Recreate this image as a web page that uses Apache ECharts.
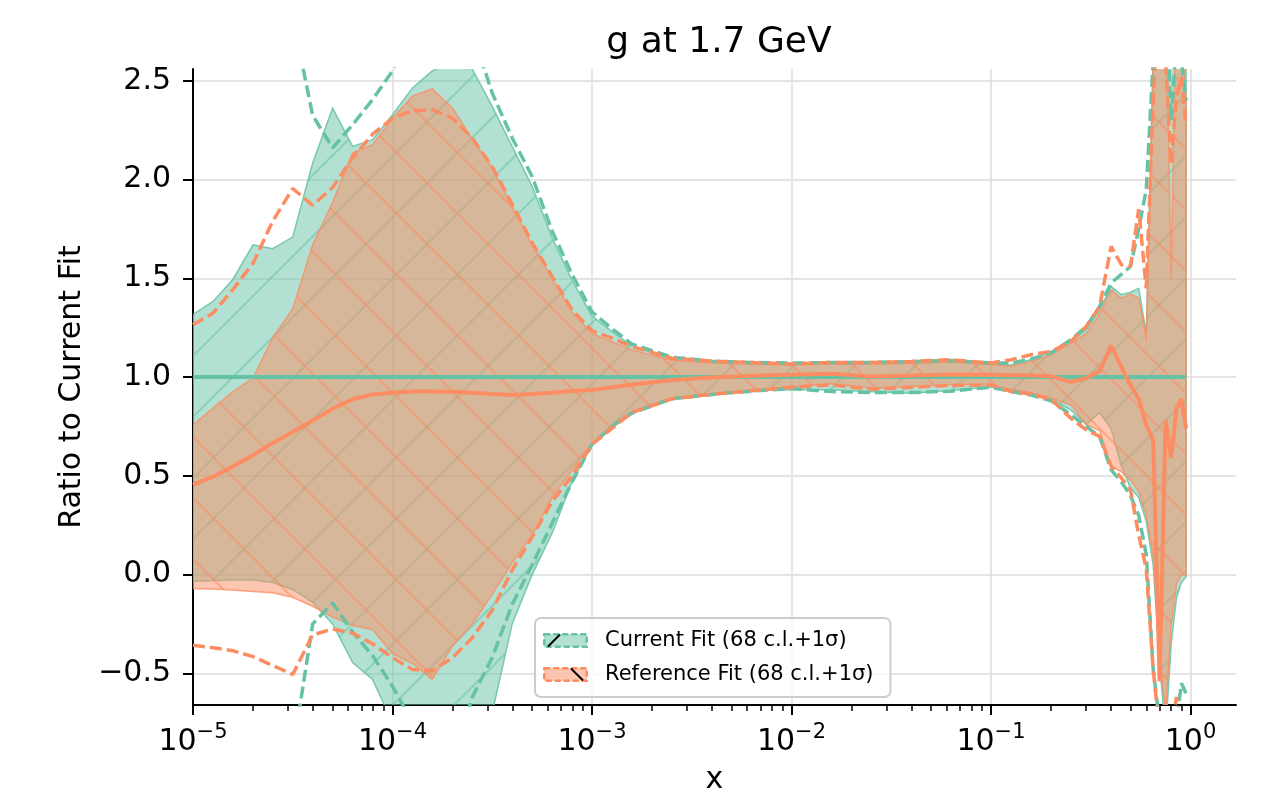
<!DOCTYPE html>
<html>
<head>
<meta charset="utf-8">
<title>g at 1.7 GeV</title>
<script src="https://cdn.jsdelivr.net/npm/echarts@6.0.0/dist/echarts.min.js"></script>
<style>
  html, body { margin: 0; padding: 0; background: #fff; }
  #chart { width: 1261px; height: 793px; }
</style>
</head>
<body>
<div id="chart"></div>
<script>
// x grid (momentum fraction)
var xVals = [1e-5, 1.26e-5, 1.58e-5, 2.0e-5, 2.51e-5, 3.16e-5, 3.98e-5, 5.01e-5, 6.31e-5, 7.94e-5,
  1e-4, 1.26e-4, 1.58e-4, 2.0e-4, 2.51e-4, 3.16e-4, 3.98e-4, 5.01e-4, 6.31e-4, 7.94e-4,
  1e-3, 1.26e-3, 1.58e-3, 2.51e-3, 3.98e-3, 6.31e-3, 1e-2, 1.58e-2, 2.51e-2, 3.98e-2,
  6.31e-2, 0.1, 0.126, 0.158, 0.2, 0.251, 0.3, 0.35, 0.4, 0.45,
  0.5, 0.55, 0.6, 0.65, 0.7, 0.75, 0.8, 0.85, 0.9, 0.95];

// Current Fit (green)
var curCentral = [1, 1, 1, 1, 1, 1, 1, 1, 1, 1,
  1, 1, 1, 1, 1, 1, 1, 1, 1, 1,
  1, 1, 1, 1, 1, 1, 1, 1, 1, 1,
  1, 1, 1, 1, 1, 1, 1, 1, 1, 1,
  1, 1, 1, 1, 1, 1, 1, 1, 1, 1];
var curBandHi = [1.316, 1.383, 1.493, 1.670, 1.650, 1.709, 2.084, 2.362, 2.168, 2.202,
  2.329, 2.464, 2.550, 2.600, 2.560, 2.371, 2.168, 1.966, 1.707, 1.490,
  1.310, 1.231, 1.160, 1.090, 1.075, 1.068, 1.066, 1.068, 1.068, 1.072,
  1.078, 1.066, 1.062, 1.088, 1.130, 1.180, 1.240, 1.340, 1.459, 1.417,
  1.430, 1.450, 1.220, 2.600, 3.000, 3.000, 3.000, 3.000, 3.000, 2.800];
var curBandLo = [-0.035, -0.030, -0.027, -0.027, -0.040, -0.075, -0.140, -0.250, -0.445, -0.530,
  -0.750, -0.850, -0.950, -0.950, -0.850, -0.700, -0.250, 0.000, 0.210, 0.470,
  0.660, 0.758, 0.825, 0.895, 0.916, 0.932, 0.936, 0.936, 0.926, 0.918,
  0.932, 0.950, 0.936, 0.919, 0.888, 0.834, 0.760, 0.820, 0.740, 0.550,
  0.440, 0.390, 0.270, 0.050, -0.450, -0.800, -0.350, -0.120, -0.040, -0.010];
var curSigHi = [7.0, 6.0, 5.0, 4.2, 3.4, 2.82, 2.325, 2.160, 2.278, 2.405,
  2.550, 2.800, 3.000, 3.100, 2.750, 2.438, 2.211, 2.016, 1.740, 1.520,
  1.330, 1.245, 1.168, 1.101, 1.081, 1.074, 1.071, 1.074, 1.074, 1.079,
  1.084, 1.071, 1.071, 1.091, 1.122, 1.189, 1.256, 1.357, 1.476, 1.520,
  1.560, 1.750, 1.950, 2.600, 3.200, 3.000, 2.300, 2.700, 2.600, 2.400];
var curSigLo = [-4.2, -3.6, -3.0, -2.3, -1.55, -0.90, -0.250, -0.143, -0.290, -0.410,
  -0.565, -0.750, -0.900, -0.950, -0.620, -0.420, -0.150, 0.050, 0.260, 0.470,
  0.660, 0.750, 0.817, 0.890, 0.912, 0.929, 0.942, 0.927, 0.922, 0.922,
  0.929, 0.949, 0.927, 0.910, 0.880, 0.810, 0.750, 0.700, 0.530, 0.470,
  0.400, 0.300, 0.100, -0.480, -0.750, -1.000, -1.000, -0.750, -0.550, -0.600];

// Reference Fit (orange)
var refCentral = [0.454, 0.496, 0.548, 0.605, 0.667, 0.722, 0.780, 0.840, 0.888, 0.912,
  0.921, 0.927, 0.927, 0.926, 0.921, 0.915, 0.910, 0.915, 0.921, 0.930,
  0.935, 0.949, 0.961, 0.985, 0.998, 1.007, 1.012, 1.017, 1.003, 1.008,
  1.013, 1.012, 1.010, 1.010, 1.005, 0.975, 0.995, 1.030, 1.160, 1.050,
  0.960, 0.890, 0.760, 0.680, -0.540, 0.780, 0.590, 0.840, 0.890, 0.740];
var refBandHi = [0.758, 0.843, 0.925, 0.995, 1.200, 1.345, 1.670, 1.885, 2.135, 2.177,
  2.312, 2.422, 2.459, 2.362, 2.205, 2.059, 1.864, 1.670, 1.501, 1.330,
  1.220, 1.180, 1.138, 1.085, 1.072, 1.066, 1.062, 1.066, 1.066, 1.070,
  1.076, 1.064, 1.054, 1.079, 1.113, 1.172, 1.220, 1.320, 1.440, 1.400,
  1.420, 1.400, 1.200, 2.600, 3.000, 3.000, 1.500, 3.000, 2.900, 2.400];
var refBandLo = [-0.070, -0.073, -0.078, -0.085, -0.092, -0.115, -0.160, -0.215, -0.258, -0.278,
  -0.400, -0.450, -0.530, -0.360, -0.250, -0.100, 0.060, 0.200, 0.390, 0.530,
  0.660, 0.750, 0.825, 0.895, 0.916, 0.933, 0.951, 0.966, 0.944, 0.952,
  0.962, 0.963, 0.936, 0.922, 0.893, 0.860, 0.760, 0.730, 0.550, 0.520,
  0.480, 0.420, 0.300, 0.100, -0.400, -0.700, -0.250, -0.050, 0.000, 0.000];
var refSigHi = [1.265, 1.324, 1.442, 1.577, 1.790, 1.955, 1.870, 1.960, 2.110, 2.230,
  2.310, 2.350, 2.354, 2.310, 2.210, 2.065, 1.875, 1.680, 1.510, 1.340,
  1.235, 1.197, 1.155, 1.096, 1.081, 1.074, 1.067, 1.074, 1.074, 1.079,
  1.088, 1.071, 1.088, 1.113, 1.130, 1.180, 1.256, 1.357, 1.662, 1.569,
  1.560, 1.850, 1.450, 2.400, 3.000, 2.600, 2.080, 2.420, 2.520, 2.270];
var refSigLo = [-0.357, -0.370, -0.385, -0.415, -0.460, -0.505, -0.305, -0.275, -0.296, -0.350,
  -0.420, -0.480, -0.487, -0.420, -0.320, -0.180, 0.024, 0.190, 0.370, 0.500,
  0.660, 0.741, 0.820, 0.890, 0.913, 0.931, 0.949, 0.961, 0.939, 0.949,
  0.958, 0.961, 0.927, 0.915, 0.888, 0.792, 0.733, 0.700, 0.550, 0.490,
  0.430, 0.200, 0.030, -0.480, -0.800, -1.000, -0.800, -0.620, -0.750, -0.800];

// ticks
var xTickExps = [-5, -4, -3, -2, -1, 0];
var minorMult = [2, 3, 4, 5, 6, 7, 8, 9];
var yTicks = [-0.5, 0, 0.5, 1, 1.5, 2, 2.5];

var FONT = 'DejaVu Sans';
var GREEN = '#66c2a5', ORANGE = '#fc8d62';
var CUR = 'Current Fit (68 c.l.+1\u03c3)';
var REF = 'Reference Fit (68 c.l.+1\u03c3)';
var X_MIN = -5, X_MAX = 0.228;

var minorTicks = [];
xTickExps.forEach(function (e) {
  minorMult.forEach(function (m) {
    var v = e + Math.log10(m);
    if (v < X_MAX) minorTicks.push(v);
  });
});

function toLog(arr) {
  return xVals.map(function (x, i) { return [Math.log10(x), arr[i]]; });
}

// tile with a translucent fill and diagonal hatch lines (dir 1 = '/', -1 = '\')
function hatchTile(fill, line, dir) {
  var s = 61;
  var c = document.createElement('canvas');
  c.width = s; c.height = s;
  var ctx = c.getContext('2d');
  ctx.fillStyle = fill;
  ctx.fillRect(0, 0, s, s);
  ctx.strokeStyle = line;
  ctx.lineWidth = 2;
  for (var k = -1; k <= 1; k++) {
    ctx.beginPath();
    if (dir > 0) {
      ctx.moveTo(-s, 2 * s + k * s);
      ctx.lineTo(2 * s, -s + k * s);
    } else {
      ctx.moveTo(-s, -s + k * s);
      ctx.lineTo(2 * s, 2 * s + k * s);
    }
    ctx.stroke();
  }
  return { image: c, repeat: 'repeat' };
}

// legend patch: translucent box, dashed edge, one black hatch stroke
function legendIcon(fill, edge, dir) {
  var w = 45, h = 15;
  var c = document.createElement('canvas');
  c.width = w; c.height = h;
  var ctx = c.getContext('2d');
  ctx.fillStyle = fill;
  ctx.fillRect(1, 1, w - 2, h - 2);
  ctx.strokeStyle = edge;
  ctx.lineWidth = 2.5;
  ctx.setLineDash([6, 3]);
  ctx.strokeRect(1.25, 1.25, w - 2.5, h - 2.5);
  ctx.setLineDash([]);
  ctx.strokeStyle = '#000';
  ctx.lineWidth = 2;
  ctx.beginPath();
  if (dir > 0) { ctx.moveTo(5, 13.5); ctx.lineTo(17, 1.5); }
  else { ctx.moveTo(28, 1.5); ctx.lineTo(40, 13.5); }
  ctx.stroke();
  return 'image://' + c.toDataURL();
}

function band(name, lo, hi, edge, fill, line, dir) {
  var pattern = hatchTile(fill, line, dir);
  return {
    name: name, type: 'custom', coordinateSystem: 'cartesian2d', clip: true, z: 2, silent: true,
    itemStyle: { color: edge },
    data: [[Math.log10(xVals[0]), lo[0]]],
    renderItem: function (params, api) {
      var pts = [], i;
      for (i = 0; i < xVals.length; i++) pts.push(api.coord([Math.log10(xVals[i]), hi[i]]));
      for (i = xVals.length - 1; i >= 0; i--) pts.push(api.coord([Math.log10(xVals[i]), lo[i]]));
      return {
        type: 'polygon',
        shape: { points: pts },
        style: { fill: pattern, stroke: edge, lineWidth: 1.5 }
      };
    }
  };
}
function dashed(name, arr, color) {
  return { name: name, type: 'line', data: toLog(arr), symbol: 'none', z: 3, silent: true,
    lineStyle: { color: color, width: 3.5, type: [12, 5] } };
}
function central(name, arr, color) {
  return { name: name, type: 'line', data: toLog(arr), symbol: 'none', z: 4, silent: true,
    lineStyle: { color: color, width: 4 } };
}

var series = [
  band(CUR, curBandLo, curBandHi, 'rgba(102,194,165,0.85)', 'rgba(102,194,165,0.5)', 'rgba(102,194,165,0.5)', 1),
  band(REF, refBandLo, refBandHi, 'rgba(252,141,98,0.8)', 'rgba(252,141,98,0.5)', 'rgba(252,141,98,0.55)', -1),
  dashed('cur sigma hi', curSigHi, GREEN), dashed('cur sigma lo', curSigLo, GREEN),
  dashed('ref sigma hi', refSigHi, ORANGE), dashed('ref sigma lo', refSigLo, ORANGE),
  central('cur central', curCentral, GREEN), central('ref central', refCentral, ORANGE)
];

var myChart = echarts.init(document.getElementById('chart'));
option = {
  animation: false,
  backgroundColor: '#fff',
  title: {
    text: 'g at 1.7 GeV',
    left: 714,
    top: 20,
    textAlign: 'center',
    textStyle: { fontFamily: FONT, fontSize: 36, fontWeight: 'normal', color: '#000' }
  },
  grid: { left: 193, right: 25, top: 69, bottom: 88, outerBoundsMode: 'none', containLabel: false },
  legend: {
    orient: 'vertical',
    left: 535,
    top: 618,
    padding: [12, 17, 12, 8],
    itemGap: 13,
    itemWidth: 45,
    itemHeight: 15,
    backgroundColor: 'rgba(255,255,255,0.8)',
    borderColor: '#cccccc',
    borderWidth: 2,
    borderRadius: 6,
    textStyle: { fontFamily: FONT, fontSize: 21, color: '#000', padding: [0, 0, 0, 12] },
    data: [
      { name: CUR, icon: legendIcon('rgba(102,194,165,0.5)', GREEN, 1) },
      { name: REF, icon: legendIcon('rgba(252,141,98,0.5)', ORANGE, -1) }
    ]
  },
  xAxis: [{
    type: 'value',
    min: X_MIN,
    max: X_MAX,
    name: 'x',
    nameLocation: 'middle',
    nameGap: 60,
    nameTextStyle: { fontFamily: FONT, fontSize: 30, color: '#000' },
    axisLine: { show: true, onZero: false, lineStyle: { color: '#000', width: 2 } },
    axisTick: { show: true, length: 10, customValues: xTickExps, lineStyle: { color: '#000', width: 2 } },
    axisLabel: {
      customValues: xTickExps,
      margin: 17,
      color: '#000',
      formatter: function (v) {
        var e = Math.round(v);
        return '{b|10}{s|' + (e < 0 ? '\u2212' + (-e) : e) + '}';
      },
      rich: {
        b: { fontFamily: FONT, fontSize: 30, color: '#000' },
        s: { fontFamily: FONT, fontSize: 21, color: '#000', padding: [0, 0, 20, 0] }
      }
    },
    splitLine: { show: true, lineStyle: { color: '#dcdcdc', width: 1.5 } }
  }, {
    type: 'value',
    min: X_MIN,
    max: X_MAX,
    position: 'bottom',
    axisLine: { show: false, onZero: false },
    axisTick: { show: true, length: 6, customValues: minorTicks, lineStyle: { color: '#000', width: 1.5 } },
    axisLabel: { show: false },
    splitLine: { show: false }
  }],
  yAxis: {
    type: 'value',
    min: -0.66,
    max: 2.56,
    name: 'Ratio to Current Fit',
    nameLocation: 'middle',
    nameGap: 106,
    nameRotate: 90,
    nameTextStyle: { fontFamily: FONT, fontSize: 30, color: '#000' },
    axisLine: { show: true, onZero: false, lineStyle: { color: '#000', width: 2 } },
    axisTick: { show: true, length: 10, customValues: yTicks, lineStyle: { color: '#000', width: 2 } },
    axisLabel: {
      customValues: yTicks,
      margin: 22,
      fontFamily: FONT,
      fontSize: 30,
      color: '#000',
      formatter: function (v) {
        return v < 0 ? '\u2212' + Math.abs(v).toFixed(1) : v.toFixed(1);
      }
    },
    splitLine: { show: true, lineStyle: { color: '#dcdcdc', width: 1.5 } }
  },
  series: series
};
myChart.setOption(option);
</script>
</body>
</html>
